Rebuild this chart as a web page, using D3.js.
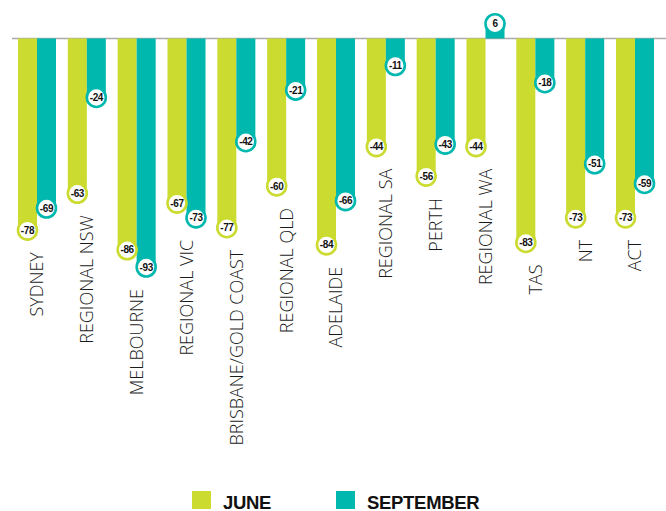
<!DOCTYPE html>
<html>
<head>
<meta charset="utf-8">
<script src="https://cdn.jsdelivr.net/npm/d3@7"></script>
<style>
  body { margin: 0; background: #fff; }
  svg { display: block; }
</style>
</head>
<body>
<svg width="666" height="511"></svg>
<script>
// Data
let categories = ["SYDNEY", "REGIONAL NSW", "MELBOURNE", "REGIONAL VIC", "BRISBANE/GOLD COAST",
  "REGIONAL QLD", "ADELAIDE", "REGIONAL SA", "PERTH", "REGIONAL WA", "TAS", "NT", "ACT"];
let june = [-78, -63, -86, -67, -77, -60, -84, -44, -56, -44, -83, -73, -73];
let september = [-69, -24, -93, -73, -42, -21, -66, -11, -43, 6, -18, -51, -59];
let seriesNames = ["JUNE", "SEPTEMBER"];
let colors = ["#cbdb2f", "#00b8ae"];

let svg = d3.select("svg");

// Scales
let x0 = d3.scaleBand()
  .domain(categories)
  .range([12, 660])
  .paddingInner(0.237)
  .paddingOuter(0.12);

let x1 = d3.scaleBand()
  .domain(seriesNames)
  .range([0, x0.bandwidth()]);

let y = d3.scaleLinear()
  .domain([10, -100])
  .range([13.9, 284.2]);

let rows = categories.map((c, i) => ({ cat: c, values: [june[i], september[i]] }));

// zero line
svg.append("line")
  .attr("x1", 12).attr("x2", 666)
  .attr("y1", y(0)).attr("y2", y(0))
  .attr("stroke", "#aaa")
  .attr("stroke-width", 1.5);

let groups = svg.append("g")
  .selectAll("g")
  .data(rows)
  .enter()
  .append("g")
  .attr("transform", d => `translate(${x0(d.cat)},0)`);

// bars
groups.selectAll("rect")
  .data(d => d.values.map((v, k) => ({ v: v, k: k })))
  .enter()
  .append("rect")
  .attr("x", d => x1(seriesNames[d.k]))
  .attr("width", x1.bandwidth())
  .attr("y", d => Math.min(y(0), y(d.v)))
  .attr("height", d => Math.abs(y(d.v) - y(0)))
  .attr("fill", d => colors[d.k]);

// value bubbles
let bubbles = groups.selectAll("g.bubble")
  .data(d => d.values.map((v, k) => ({ v: v, k: k })))
  .enter()
  .append("g")
  .attr("class", "bubble")
  .attr("transform", d => `translate(${x1(seriesNames[d.k]) + x1.bandwidth() / 2},${y(d.v)})`);

bubbles.append("circle")
  .attr("r", 9.5)
  .attr("fill", "#fff")
  .attr("stroke", d => colors[d.k])
  .attr("stroke-width", 2.6);

bubbles.append("text")
  .attr("text-anchor", "middle")
  .attr("dy", "0.36em")
  .attr("font-family", "'Liberation Sans', Arial, sans-serif")
  .attr("font-weight", "bold")
  .attr("font-size", 10)
  .attr("letter-spacing", -0.4)
  .attr("fill", "#111")
  .text(d => d.v);

// category labels, under the lowest bubble of each group
groups.append("text")
  .attr("transform", d => {
    let low = Math.min(0, d3.min(d.values));
    return `translate(${x0.bandwidth() / 2},${y(low) + 22}) rotate(-90)`;
  })
  .attr("text-anchor", "end")
  .attr("dy", "0.36em")
  .attr("font-family", "'Open Sans', 'Liberation Sans', sans-serif")
  .attr("font-weight", 300)
  .attr("font-size", 18)
  .attr("fill", "#1a1a1a")
  .text(d => d.cat);

// legend
let legendX = [192, 336];
let legend = svg.append("g")
  .selectAll("g")
  .data(seriesNames)
  .enter()
  .append("g")
  .attr("transform", (d, i) => `translate(${legendX[i]},491)`);

legend.append("rect")
  .attr("width", 19)
  .attr("height", 18)
  .attr("fill", (d, i) => colors[i]);

legend.append("text")
  .attr("x", 31)
  .attr("y", 17.5)
  .attr("font-family", "'Liberation Sans', Arial, sans-serif")
  .attr("font-weight", "bold")
  .attr("font-size", 18.5)
  .attr("letter-spacing", -0.3)
  .attr("fill", "#111")
  .text(d => d);
</script>
</body>
</html>
